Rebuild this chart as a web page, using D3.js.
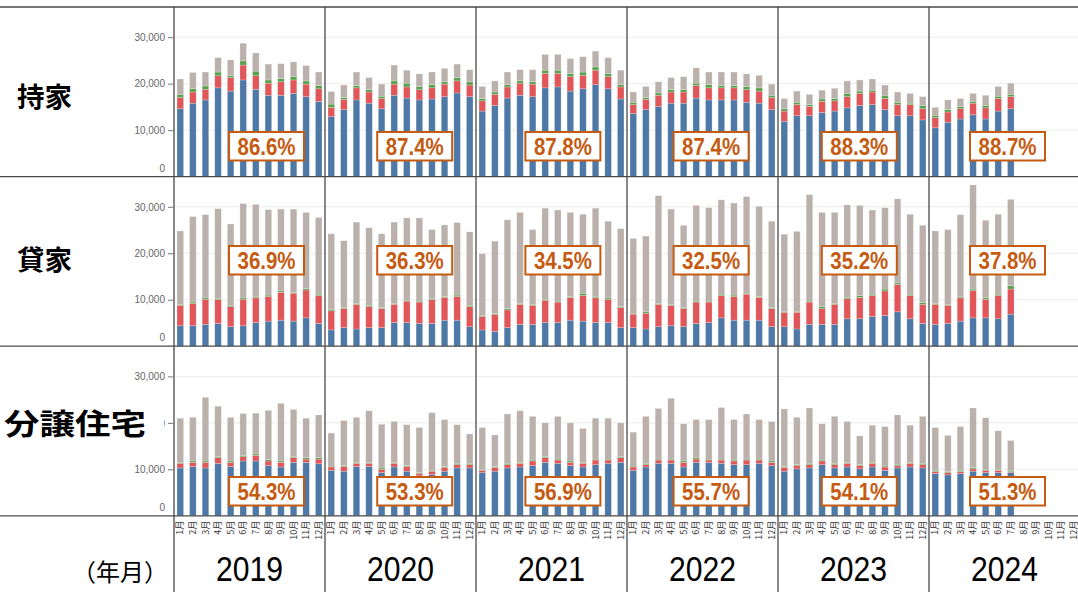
<!DOCTYPE html>
<html>
<head>
<meta charset="utf-8">
<script src="https://cdn.jsdelivr.net/npm/d3@7"></script>
<style>
    body { margin: 0; background: #fff; }
    svg { display: block; }
</style>
</head>
<body>
<svg id="chart"></svg>
<script>
const years = ['2019', '2020', '2021', '2022', '2023', '2024'];
const months = ['1月', '2月', '3月', '4月', '5月', '6月', '7月', '8月', '9月', '10月', '11月', '12月'];
const types = ['持家', '貸家', '分譲住宅'];
const seriesKeys = ['在来木造', '枠組壁工法', '木質プレハブ', '非木造'];
const yTicks = [0, 10000, 20000, 30000];

// 木造率 (label in each panel)
const pctMochiie = ['86.6%', '87.4%', '87.8%', '87.4%', '88.3%', '88.7%'];
const pctKashiya = ['36.9%', '36.3%', '34.5%', '32.5%', '35.2%', '37.8%'];
const pctBunjo = ['54.3%', '53.3%', '56.9%', '55.7%', '54.1%', '51.3%'];

// 持家 (2019/1 - 2024/7)
const mochiieA = [
    14600, 15800, 16500, 19100, 18400, 20800, 18800, 17500, 17500, 17900, 17200, 16200,
    12900, 14400, 16500, 15800, 14600, 17500, 16900, 16500, 16700, 17200, 18000, 17200,
    14100, 15300, 16900, 17500, 17200, 19100, 19300, 18400, 18900, 19800, 18900, 16700,
    13600, 14400, 15100, 15800, 15800, 16900, 16500, 16500, 16500, 16000, 15800, 14400,
    11900, 13100, 13100, 13800, 14100, 14800, 15300, 15500, 14400, 13100, 13100, 12200,
    10500, 11700, 12400, 13300, 12400, 14100, 14600];
const mochiieB = [
    2400, 2400, 2300, 2600, 2900, 3200, 2900, 2600, 2900, 2900, 2700, 2700,
    2000, 2200, 2600, 2400, 2200, 2400, 2400, 2200, 2400, 2700, 2600, 2500,
    2200, 2400, 2400, 2600, 2700, 3100, 2900, 3100, 2900, 3100, 2600, 2600,
    1900, 2200, 2400, 2400, 2400, 2700, 2600, 2600, 2600, 2700, 2600, 2600,
    2200, 2400, 2000, 2400, 2200, 2400, 2600, 2700, 2400, 2400, 2400, 2400,
    2200, 2200, 2200, 2500, 2400, 2700, 2600];
const mochiieC = [
    700, 700, 700, 800, 400, 900, 1000, 700, 700, 700, 700, 700,
    700, 400, 500, 500, 500, 700, 800, 700, 700, 500, 700, 700,
    500, 500, 500, 500, 500, 700, 700, 700, 700, 700, 700, 500,
    500, 400, 500, 500, 500, 500, 700, 500, 500, 700, 700, 500,
    500, 500, 400, 500, 500, 700, 500, 400, 700, 500, 300, 700,
    500, 500, 500, 400, 500, 500, 500];
const mochiieD = [
    3300, 3500, 3000, 3100, 3400, 3800, 3900, 3400, 3200, 3200, 3300, 2900,
    2700, 2700, 2900, 2600, 2600, 3400, 2800, 2700, 2700, 2900, 2900, 2600,
    2600, 2400, 2700, 2400, 2600, 3400, 3400, 3200, 3300, 3400, 3400, 3100,
    2200, 2400, 2400, 2600, 2800, 3300, 2700, 2900, 2900, 2700, 2700, 2400,
    2200, 2400, 2200, 1900, 2200, 2700, 2400, 2400, 2200, 2200, 2100, 1900,
    1700, 2100, 1700, 1700, 2200, 2100, 2400];

// 貸家
const kashiyaA = [
    4400, 4400, 4700, 4900, 4200, 4400, 5100, 5400, 5600, 5400, 6100, 4900,
    3500, 4000, 3700, 4000, 4000, 5100, 5100, 4900, 4900, 5600, 5600, 4200,
    3500, 3200, 4000, 4700, 4700, 5100, 5100, 5600, 5400, 5100, 5100, 4000,
    4000, 3700, 4200, 4400, 4200, 4900, 5100, 6100, 5600, 5600, 5600, 4200,
    4200, 3700, 4700, 4700, 4700, 5900, 5900, 6400, 6600, 7400, 5900, 4900,
    4700, 4900, 5400, 6100, 6100, 5900, 6900];
const kashiyaB = [
    4400, 4800, 5400, 5100, 4300, 5700, 5300, 5300, 6000, 6000, 6000, 6000,
    4100, 4100, 5300, 4500, 4100, 3900, 4600, 4600, 5100, 4900, 5100, 4300,
    2900, 3600, 3800, 4300, 4100, 4800, 4400, 4900, 5500, 5300, 5000, 4300,
    2900, 3400, 4800, 4400, 3900, 4600, 4400, 4800, 5100, 5600, 4900, 3900,
    3100, 3600, 4800, 3400, 4300, 4300, 4600, 4500, 5300, 5900, 5000, 4100,
    4300, 3900, 5000, 5900, 4000, 5000, 5400];
const kashiyaC = [
    200, 300, 300, 200, 300, 300, 200, 300, 300, 200, 300, 300,
    300, 200, 200, 300, 200, 200, 200, 200, 200, 200, 300, 300,
    200, 200, 300, 200, 200, 200, 200, 200, 500, 200, 300, 200,
    200, 300, 200, 200, 200, 200, 200, 300, 300, 200, 200, 200,
    200, 200, 200, 400, 200, 300, 400, 300, 400, 300, 300, 400,
    200, 200, 200, 300, 300, 300, 700];
const kashiyaD = [
    15800, 18400, 17900, 19400, 17500, 20300, 19900, 18400, 17600, 17900, 16400, 16500,
    16300, 14400, 17500, 16700, 15900, 17500, 17700, 17900, 14900, 15400, 15600, 15800,
    13300, 15600, 19100, 19600, 16100, 19600, 19600, 18100, 17000, 19100, 16500, 16800,
    16100, 16300, 23200, 20500, 17700, 20600, 20100, 20300, 19800, 20800, 19400, 18600,
    16600, 17200, 22900, 20300, 19600, 19900, 19400, 18100, 17500, 18100, 17200, 16600,
    15600, 16100, 17700, 22400, 16700, 17200, 18600];

// 分譲住宅
const bunjoA = [
    10300, 10600, 10300, 11300, 10600, 11800, 11800, 10800, 10500, 11500, 11500, 11200,
    9800, 9600, 10600, 10600, 9300, 10500, 9600, 8600, 8900, 9600, 10300, 10300,
    9300, 9600, 10300, 10500, 10800, 11500, 11300, 10800, 10500, 11000, 11300, 11500,
    9800, 10500, 11300, 11300, 10500, 11500, 11500, 11300, 11000, 11000, 11300, 10800,
    9600, 10100, 10300, 11000, 10300, 10500, 10100, 10500, 9800, 10300, 10500, 10300,
    9100, 8800, 9100, 9600, 9300, 9300, 9300];
const bunjoB = [
    1000, 900, 1200, 1200, 900, 900, 1200, 1000, 1000, 1000, 700, 1000,
    700, 1000, 700, 700, 700, 800, 1000, 500, 700, 800, 700, 700,
    500, 800, 700, 800, 1000, 1000, 700, 700, 800, 1000, 700, 1000,
    700, 500, 700, 700, 1000, 700, 500, 700, 800, 1000, 700, 700,
    800, 700, 700, 800, 700, 800, 700, 800, 700, 500, 800, 700,
    400, 500, 400, 500, 500, 500, 200];
const bunjoC = [
    200, 300, 300, 200, 300, 300, 300, 300, 300, 200, 300, 300,
    200, 200, 200, 200, 300, 200, 200, 200, 200, 200, 300, 300,
    200, 200, 300, 200, 200, 200, 200, 300, 200, 200, 200, 200,
    200, 300, 200, 200, 300, 300, 200, 200, 200, 200, 200, 300,
    200, 200, 300, 200, 300, 200, 200, 200, 200, 300, 200, 300,
    300, 200, 300, 300, 200, 200, 300];
const bunjoD = [
    9500, 9400, 13700, 10900, 9400, 9000, 8800, 10600, 12400, 10200, 8500, 9200,
    7100, 9700, 9700, 11100, 9400, 8800, 8800, 9700, 12400, 10100, 8300, 6300,
    9000, 6800, 10600, 11100, 9400, 7300, 9200, 8200, 7300, 8800, 8800, 7300,
    7300, 10100, 10900, 13100, 8000, 8200, 8500, 11100, 8700, 9700, 8500, 8500,
    12400, 10200, 11900, 7800, 10100, 8800, 6200, 8000, 8500, 10600, 8000, 10100,
    9200, 7800, 9400, 12800, 11100, 8300, 6400];

const rowSeries = [
    [mochiieA, mochiieB, mochiieC, mochiieD],
    [kashiyaA, kashiyaB, kashiyaC, kashiyaD],
    [bunjoA, bunjoB, bunjoC, bunjoD]
];
const rowPct = [pctMochiie, pctKashiya, pctBunjo];

const width = 1078;
const height = 597;
const plotLeft = 174;
const plotTop = 7;
const rowH = 169.6;
const colors = ['#4e79a7', '#e15759', '#59a14f', '#bab0ac'];
const lineColor = '#4a4a4a';
const orange = '#c55a11';

const svg = d3.select('#chart')
    .attr('width', width)
    .attr('height', height)
    .attr('font-family', '"Noto Sans CJK JP", "Noto Sans", sans-serif');

const xPanel = d3.scaleBand().domain(years).range([plotLeft, plotLeft + 151 * 6]);
const xMonth = d3.scaleBand().domain(months).range([0, xPanel.bandwidth()])
    .paddingInner(0.48).paddingOuter(0.24);
const color = d3.scaleOrdinal().domain(seriesKeys).range(colors);
const stack = d3.stack().keys(seriesKeys);
const boxX = d3.scaleLinear().domain([0, years.length - 1]).range([229, 970]);
const boxTop = [132, 246, 477];
const labelY = [97, 260, 425];
const labelLeft = [17, 17, 4];
const labelLen = [55, 55, 142];

types.forEach((type, r) => {
    const y0 = plotTop + r * rowH;
    const y = d3.scaleLinear().domain([0, 36500]).range([y0 + rowH, y0]);

    const table = rowSeries[r][0].map((_, i) => {
        const row = { year: years[Math.floor(i / 12)], month: months[i % 12] };
        seriesKeys.forEach((k, j) => row[k] = rowSeries[r][j][i]);
        return row;
    });

    const g = svg.append('g');

    // gridlines
    g.append('g')
        .selectAll('line')
        .data(yTicks.slice(1))
        .join('line')
        .attr('x1', plotLeft)
        .attr('x2', width)
        .attr('y1', d => y(d))
        .attr('y2', d => y(d))
        .attr('stroke', '#ececec');

    g.append('g')
        .selectAll('g')
        .data(stack(table))
        .join('g')
        .attr('fill', d => color(d.key))
        .selectAll('rect')
        .data(d => d)
        .join('rect')
        .attr('x', d => xPanel(d.data.year) + xMonth(d.data.month))
        .attr('width', xMonth.bandwidth())
        .attr('y', d => y(d[1]))
        .attr('height', d => y(d[0]) - y(d[1]))
        .attr('stroke', '#fff')
        .attr('stroke-opacity', 0.35)
        .attr('stroke-width', 0.6);

    const axis = g.append('g')
        .attr('transform', `translate(${plotLeft - 1},0)`)
        .call(d3.axisLeft(y).tickValues(yTicks).tickSize(5).tickPadding(3).tickFormat(d3.format(',')));
    axis.select('.domain').remove();
    axis.selectAll('.tick line').attr('stroke', '#777').filter(d => d === 0).remove();
    axis.selectAll('.tick text')
        .attr('fill', '#666')
        .attr('font-size', 10)
        .attr('font-family', '"Liberation Sans", Arial, sans-serif')
        .filter(d => d === 0)
        .attr('dy', '-0.55em');

    // row header text box (white background, drawn over the axis labels)
    const head = svg.append('g');
    head.append('rect')
        .attr('x', labelLeft[r] - 2)
        .attr('y', labelY[r] - 16)
        .attr('width', r === 2 ? 166 - labelLeft[r] : labelLen[r] + 4)
        .attr('height', 32)
        .attr('fill', '#fff');
    head.append('text')
        .attr('x', labelLeft[r])
        .attr('y', labelY[r])
        .attr('dy', '0.36em')
        .attr('font-size', r === 2 ? 29 : 27)
        .attr('font-weight', 'bold')
        .attr('textLength', labelLen[r])
        .attr('lengthAdjust', 'spacingAndGlyphs')
        .attr('fill', '#000')
        .text(type);

    const box = g.append('g')
        .selectAll('g')
        .data(rowPct[r])
        .join('g')
        .attr('transform', (d, i) => `translate(${boxX(i)},${boxTop[r]})`);
    box.append('rect')
        .attr('width', 75)
        .attr('height', 28.5)
        .attr('fill', '#fff')
        .attr('stroke', orange)
        .attr('stroke-width', 2);
    box.append('text')
        .attr('x', 37.5)
        .attr('y', 14.5)
        .attr('dy', '0.36em')
        .attr('text-anchor', 'middle')
        .attr('font-size', 23)
        .attr('font-weight', 'bold')
        .attr('font-family', '"Liberation Sans Narrow", "Liberation Sans", sans-serif')
        .attr('textLength', 58)
        .attr('lengthAdjust', 'spacingAndGlyphs')
        .attr('fill', orange)
        .text(d => d);
});

// frame lines
const hLines = [0, 1, 2, 3].map(i => plotTop + i * rowH);
svg.append('g')
    .selectAll('line')
    .data(hLines)
    .join('line')
    .attr('x1', 0)
    .attr('x2', width)
    .attr('y1', d => d)
    .attr('y2', d => d)
    .attr('stroke', lineColor)
    .attr('stroke-width', 1.3);

svg.append('g')
    .selectAll('line')
    .data(years)
    .join('line')
    .attr('x1', d => xPanel(d))
    .attr('x2', d => xPanel(d))
    .attr('y1', plotTop)
    .attr('y2', 592)
    .attr('stroke', lineColor)
    .attr('stroke-width', 1.3);

// month labels
const bottom = plotTop + 3 * rowH;
svg.append('g')
    .selectAll('g')
    .data(years)
    .join('g')
    .attr('transform', d => `translate(${xPanel(d)},0)`)
    .selectAll('text')
    .data(months)
    .join('text')
    .attr('transform', d => `translate(${xMonth(d) + xMonth.bandwidth() / 2},${bottom + 5}) rotate(-90)`)
    .attr('dy', '0.35em')
    .attr('text-anchor', 'end')
    .attr('font-size', 9)
    .attr('fill', '#333')
    .text(d => d);

// year labels
svg.append('g')
    .selectAll('text')
    .data(years)
    .join('text')
    .attr('x', d => xPanel(d) + xPanel.bandwidth() / 2)
    .attr('y', 581)
    .attr('text-anchor', 'middle')
    .attr('font-size', 35)
    .attr('font-family', '"Liberation Sans", Arial, sans-serif')
    .attr('textLength', 67)
    .attr('lengthAdjust', 'spacingAndGlyphs')
    .attr('fill', '#000')
    .text(d => d);

svg.append('text')
    .attr('x', 168)
    .attr('y', 581)
    .attr('text-anchor', 'end')
    .attr('font-size', 24)
    .attr('fill', '#000')
    .text('（年月）');
</script>
</body>
</html>
